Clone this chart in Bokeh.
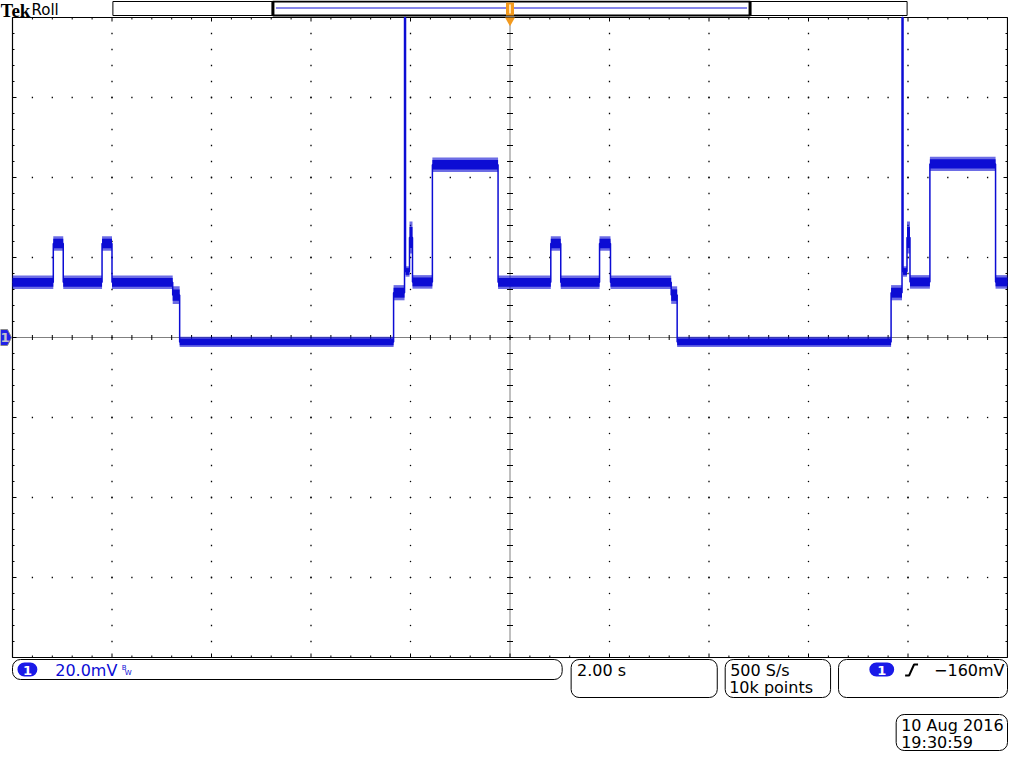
import numpy as np
from bokeh.plotting import figure
from bokeh.models import Range1d
from bokeh.core.properties import value
from bokeh.embed import file_html
from bokeh.resources import INLINE

# ---------------- data (s, mV) ----------------
seg_start = [0.00, 0.82, 1.02, 1.80, 2.00, 3.22, 3.36, 7.66, 7.88, 7.90, 7.98, 8.04, 8.44,
             9.76, 10.82, 11.02, 11.80, 12.02, 13.24, 13.36, 17.66, 17.88, 17.90, 17.98,
             18.04, 18.44, 19.76]
seg_level = [13.8, 23.5, 13.8, 23.5, 13.8, 10.6, -1.1, 11.2, 80.0, 16.5, 25.0, 13.9, 43.2,
             13.8, 23.5, 13.8, 23.5, 13.8, 10.6, -1.1, 11.2, 80.0, 16.5, 25.0,
             13.9, 43.4, 13.9]
seg_noise = [1.7, 1.8, 1.7, 1.8, 1.7, 2.2, 1.3, 1.9, 0.0, 1.3, 4.0, 1.7, 1.8,
             1.7, 1.8, 1.7, 1.8, 1.7, 2.2, 1.3, 1.9, 0.0, 1.3, 4.0,
             1.7, 1.8, 1.7]
record_end = 20.0
seg_end = seg_start[1:] + [record_end]

volts_div = "20.0mV"
time_div = "2.00 s"
sample_rate = "500 S/s"
record_len = "10k points"
trig_level = "\u2212160mV"
date_txt = "10 Aug 2016"
time_txt = "19:30:59"

# ---------------- layout ----------------
W, H = 1008, 752
GL, GR, GT, GB = 12, 1007, 17, 657
T_SPAN, V_HALF = 20.0, 80.0
sx = T_SPAN / (GR - GL)
sy = 2 * V_HALF / (GB - GT)


def X(px):
    return (px - GL) * sx


def Y(py):
    return V_HALF - (py - GT) * sy


def RX(xref):
    return GL + (xref - 20) * (GR - GL) / 1001.0


BLUE = "#0c0cd4"
ORANGE = "#f39a1e"

p = figure(width=W, height=H, x_range=Range1d(X(0), X(W)), y_range=Range1d(Y(H), Y(0)),
           x_axis_type=None, y_axis_type=None, toolbar_location=None,
           output_backend="svg", min_border=0, outline_line_color=None)
p.background_fill_color = "white"
p.border_fill_color = "white"


def box(x0, x1, y0, y1, lw=1, radius=0, fill="white", line="black"):
    p.quad(left=[X(x0)], right=[X(x1)], top=[Y(y0)], bottom=[Y(y1)],
           fill_color=fill, line_color=line, line_width=lw, border_radius=radius)


def txt(px, py, s, size=16, color="black", font="DejaVu Sans", style="normal",
        align="left", baseline="top"):
    p.text(x=[X(px)], y=[Y(py)], text=[s], text_font=value(font),
           text_font_size=f"{size}px", text_color=color, text_font_style=style,
           text_align=align, text_baseline=baseline)


# ---------------- graticule ----------------
divs_x = np.arange(0, 11) * 2.0
divs_y = np.arange(-4, 5) * 20.0
minor_t = np.round(np.arange(0, 50) * 0.4, 3)[1:]
minor_v = np.round(np.arange(-19, 20) * 4.0, 3)

dx, dy = [], []
for t in divs_x[1:-1]:
    if abs(t - 10) < 1e-6:
        continue
    for v in minor_v:
        dx.append(t); dy.append(v)
for v in divs_y[1:-1]:
    if abs(v) < 1e-6:
        continue
    for t in minor_t:
        dx.append(t); dy.append(v)
p.rect(x=dx, y=dy, width=1.3, height=1.3, width_units="screen", height_units="screen",
       fill_color="black", line_color=None)

# center dotted cross
p.line(x=[10, 10], y=[-V_HALF, V_HALF], line_color="black", line_width=1, line_dash="1 1")
p.line(x=[0, T_SPAN], y=[0, 0], line_color="black", line_width=1, line_dash="1 1")
p.segment(x0=list(minor_t), y0=[-2.5 * sy] * len(minor_t), x1=list(minor_t),
          y1=[2.5 * sy] * len(minor_t), line_color="black", line_width=1)
p.segment(x0=[10 - 3 * sx] * len(minor_v), y0=list(minor_v), x1=[10 + 3 * sx] * len(minor_v),
          y1=list(minor_v), line_color="black", line_width=1)

# border ticks
bt_x0, bt_y0, bt_x1, bt_y1 = [], [], [], []
for t in minor_t:
    L = 4 if abs(t / 2 - round(t / 2)) < 1e-6 else 2
    bt_x0 += [t, t]; bt_x1 += [t, t]
    bt_y0 += [V_HALF, -V_HALF]; bt_y1 += [V_HALF - L * sy, -V_HALF + L * sy]
for v in minor_v:
    L = 4 if abs(v / 20 - round(v / 20)) < 1e-6 else 2
    bt_y0 += [v, v]; bt_y1 += [v, v]
    bt_x0 += [0, T_SPAN]; bt_x1 += [L * sx, T_SPAN - L * sx]
p.segment(x0=bt_x0, y0=bt_y0, x1=bt_x1, y1=bt_y1, line_color="black", line_width=1)

p.quad(left=[0], right=[T_SPAN], bottom=[-V_HALF], top=[V_HALF], fill_color=None,
       line_color="black", line_width=1.2)

# ---------------- trace ----------------
lvl = np.array(seg_level)
nz = np.array(seg_noise)
p.quad(left=seg_start, right=seg_end, bottom=list(lvl - nz), top=list(lvl + nz),
       fill_color=BLUE, fill_alpha=0.6, line_color=None)
p.quad(left=seg_start, right=seg_end, bottom=list(lvl - 0.65 * nz), top=list(lvl + 0.65 * nz),
       fill_color=BLUE, fill_alpha=1.0, line_color=None)
tx, ty = [], []
for a, b, v in zip(seg_start, seg_end, seg_level):
    tx += [a, b]; ty += [v, v]
p.line(x=tx, y=ty, line_color=BLUE, line_width=1.5)

# ground marker (channel 1)
yc = 0.0
p.patch(x=[X(0), X(7), X(11), X(7), X(0)],
        y=[yc + 8 * sy, yc + 8 * sy, yc, yc - 8 * sy, yc - 8 * sy],
        fill_color="#2020e8", line_color="#8a8a8a", line_width=1)
p.text(x=[X(4.5)], y=[0.0], text=["1"], text_font=value("DejaVu Sans"),
       text_font_size="13px", text_color="#c0c0cc", text_font_style="bold",
       text_align="center", text_baseline="middle")

# ---------------- header ----------------
txt(0, -1, "Tek", size=19, font="Liberation Serif", style="bold")
txt(31, 0, "Roll", size=15)
box(RX(121), RX(920), 1, 15, lw=1)
box(RX(282), RX(762), 1, 15, lw=2)
p.line(x=[X(RX(285)), X(RX(759))], y=[Y(7.5), Y(7.5)], line_color=BLUE, line_width=1)
for xr in (282, 762):
    p.segment(x0=[X(RX(xr))], y0=[Y(1)], x1=[X(RX(xr))], y1=[Y(15)], line_color="black",
              line_width=3)
# trigger position marker
tcx = 10 / sx + GL
box(tcx - 4, tcx + 4, 2, 15, lw=0, fill=ORANGE, line=None)
p.segment(x0=[10], y0=[Y(4)], x1=[10], y1=[Y(13)], line_color="#ffe2b0", line_width=2)
p.scatter(x=[10], y=[Y(20)], marker="inverted_triangle", size=10, fill_color=ORANGE,
          line_color=None)

# ---------------- bottom readouts ----------------
CB = 659
box(RX(20), RX(573), CB, CB + 20, radius=8)
box(RX(25), RX(45), CB + 3, CB + 17, radius=7, fill="#1a1ae8", line=None)
txt((RX(25) + RX(45)) / 2, CB + 10.5, "1", size=13, color="white", style="bold",
    align="center", baseline="middle")
txt(RX(63), CB + 1, volts_div, size=16, color=BLUE)
txt(RX(130), CB + 4, "B", size=7, color=BLUE)
txt(RX(133), CB + 9, "W", size=7, color=BLUE)

box(RX(582), RX(729), CB, CB + 38, radius=8)
txt(RX(588), CB + 1, time_div, size=16)

box(RX(737), RX(843), CB, CB + 38, radius=8)
txt(RX(742), CB + 1, sample_rate, size=16)
txt(RX(741), CB + 18, record_len, size=16)

box(RX(851), RX(1021), CB, CB + 38, radius=8)
box(RX(882), RX(907), CB + 3, CB + 17, radius=7, fill="#1a1ae8", line=None)
txt((RX(882) + RX(907)) / 2, CB + 10.5, "1", size=13, color="white", style="bold",
    align="center", baseline="middle")
p.line(x=[X(RX(918)), X(RX(922)), X(RX(927)), X(RX(931))],
       y=[Y(CB + 16), Y(CB + 16), Y(CB + 5), Y(CB + 5)], line_color="black", line_width=2)
txt(RX(1018), CB + 1, trig_level, size=16, align="right")

DB = 714
box(RX(909), RX(1021), DB, DB + 36, radius=8)
txt(RX(914), DB + 1, date_txt, size=16)
txt(RX(914), DB + 18, time_txt, size=16)

open("out.html", "w").write(file_html(p, INLINE))
